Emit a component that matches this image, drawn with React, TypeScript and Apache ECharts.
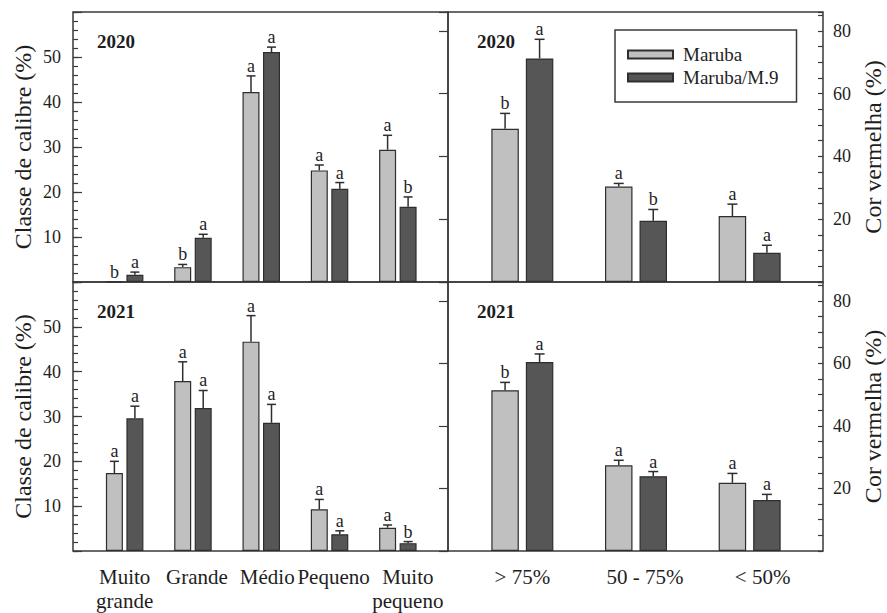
import React, { useEffect, useRef } from 'react';
import * as echarts from 'echarts';

// ---------- data ----------
const sizeClasses = ['Muito\ngrande', 'Grande', 'Médio', 'Pequeno', 'Muito\npequeno'];
const colorClasses = ['> 75%', '50 - 75%', '< 50%'];
const seriesNames = ['Maruba', 'Maruba/M.9'];
const yearLabels = ['2020', '2021'];

const sizeMax = 60;
const sizeInterval = 10;
const sizeMinorInterval = 2;
const colorMax = 86;
const colorInterval = 20;
const colorMinorInterval = 5;

const size2020Maruba = [0.1, 3.3, 42.2, 24.8, 29.4];
const size2020MarubaErr = [0.1, 3.9, 45.8, 26.0, 32.6];
const size2020MarubaLetters = ['b', 'b', 'a', 'a', 'a'];
const size2020M9 = [1.6, 9.85, 51.1, 20.7, 16.7];
const size2020M9Err = [2.2, 10.6, 52.2, 22.1, 18.9];
const size2020M9Letters = ['a', 'a', 'a', 'a', 'b'];

const size2021Maruba = [17.4, 37.9, 46.7, 9.3, 5.2];
const size2021MarubaErr = [20.0, 42.2, 52.5, 11.5, 5.8];
const size2021MarubaLetters = ['a', 'a', 'a', 'a', 'a'];
const size2021M9 = [29.6, 31.9, 28.6, 3.75, 1.75];
const size2021M9Err = [32.3, 35.8, 32.7, 4.5, 2.1];
const size2021M9Letters = ['a', 'a', 'a', 'a', 'b'];

const color2020Maruba = [48.8, 30.4, 21.0];
const color2020MarubaErr = [53.7, 31.4, 24.8];
const color2020MarubaLetters = ['b', 'a', 'a'];
const color2020M9 = [71.2, 19.5, 9.3];
const color2020M9Err = [77.3, 23.1, 11.7];
const color2020M9Letters = ['a', 'b', 'a'];

const color2021Maruba = [51.4, 27.4, 21.8];
const color2021MarubaErr = [53.9, 29.0, 24.8];
const color2021MarubaLetters = ['b', 'a', 'a'];
const color2021M9 = [60.4, 23.9, 16.3];
const color2021M9Err = [63.0, 25.4, 18.1];
const color2021M9Letters = ['a', 'a', 'a'];

// ---------- styles ----------
const FONT = '"Liberation Serif", "Times New Roman", Times, serif';
const LIGHT = '#c0c0c0';
const DARK = '#565656';
const EDGE = '#2e2e2e';
const AXIS = '#3a3a3a';
const TEXT = '#1e1e1e';
// horizontal nudges (px) of the category labels, as in the original figure
const sizeLabelShift = [0, 4, 6, 4, 10];
const colorLabelShift = [0, 9, 13];

type Panel = {
  box: { left: number; top: number; width: number; height: number };
  bars: { left: number; width: number };
  side: 'left' | 'right';
  cats: string[];
  shifts: number[];
  max: number;
  interval: number;
  minor: number;
  showCats: boolean;
  barWidth: number;
  barGap: number;
  cap: number;
  a: number[]; aErr: number[]; aL: string[];
  b: number[]; bErr: number[]; bL: string[];
  year: string;
  name?: string;
};

const panels: Panel[] = [
  {
    box: { left: 73, top: 12, width: 375, height: 270 }, bars: { left: 90.5, width: 341.5 },
    side: 'left', cats: sizeClasses, shifts: sizeLabelShift, max: sizeMax, interval: sizeInterval, minor: sizeMinorInterval,
    showCats: false, barWidth: 17, barGap: 3.5, cap: 9,
    a: size2020Maruba, aErr: size2020MarubaErr, aL: size2020MarubaLetters,
    b: size2020M9, bErr: size2020M9Err, bL: size2020M9Letters, year: yearLabels[0],
    name: 'Classe de calibre (%)',
  },
  {
    box: { left: 448, top: 12, width: 375, height: 270 }, bars: { left: 465.5, width: 341 },
    side: 'right', cats: colorClasses, shifts: colorLabelShift, max: colorMax, interval: colorInterval, minor: colorMinorInterval,
    showCats: false, barWidth: 27.5, barGap: 7, cap: 10,
    a: color2020Maruba, aErr: color2020MarubaErr, aL: color2020MarubaLetters,
    b: color2020M9, bErr: color2020M9Err, bL: color2020M9Letters, year: yearLabels[0],
    name: 'Cor vermelha (%)',
  },
  {
    box: { left: 73, top: 282, width: 375, height: 269 }, bars: { left: 90.5, width: 341.5 },
    side: 'left', cats: sizeClasses, shifts: sizeLabelShift, max: sizeMax, interval: sizeInterval, minor: sizeMinorInterval,
    showCats: true, barWidth: 17, barGap: 3.5, cap: 9,
    a: size2021Maruba, aErr: size2021MarubaErr, aL: size2021MarubaLetters,
    b: size2021M9, bErr: size2021M9Err, bL: size2021M9Letters, year: yearLabels[1],
    name: 'Classe de calibre (%)',
  },
  {
    box: { left: 448, top: 282, width: 375, height: 269 }, bars: { left: 465.5, width: 341 },
    side: 'right', cats: colorClasses, shifts: colorLabelShift, max: colorMax, interval: colorInterval, minor: colorMinorInterval,
    showCats: true, barWidth: 27.5, barGap: 7, cap: 10,
    a: color2021Maruba, aErr: color2021MarubaErr, aL: color2021MarubaLetters,
    b: color2021M9, bErr: color2021M9Err, bL: color2021M9Letters, year: yearLabels[1],
    name: 'Cor vermelha (%)',
  },
];

function buildOption() {
  const grid: any[] = [];
  const xAxis: any[] = [];
  const yAxis: any[] = [];
  const series: any[] = [];
  const title: any[] = [];
  const n = panels.length;

  panels.forEach((p, i) => {
    grid[i] = { ...p.box, show: true, borderColor: AXIS, borderWidth: 1.5, backgroundColor: 'transparent' };
    grid[n + i] = { left: p.bars.left, width: p.bars.width, top: p.box.top, height: p.box.height };

    xAxis[i] = { type: 'value', gridIndex: i, show: false, min: 0, max: 1 };
    xAxis[n + i] = {
      type: 'category', gridIndex: n + i,
      data: p.cats.map((c, k) => ({ value: c, textStyle: { padding: [0, 0, 0, 2 * p.shifts[k]] } })),
      axisLine: { show: false }, axisTick: { show: false }, splitLine: { show: false },
      axisLabel: {
        show: p.showCats, fontFamily: FONT, fontSize: 21, lineHeight: 24, color: TEXT, margin: 14,
        interval: 0,
      },
    };

    const labelFmt = (v: number) => (v === 0 || v >= p.max || v % p.interval !== 0 ? '' : String(v));
    yAxis[i] = {
      type: 'value', gridIndex: i, position: p.side, min: 0, max: p.max, interval: p.interval,
      axisLine: { show: false }, splitLine: { show: false },
      axisTick: { show: true, inside: true, length: 9, lineStyle: { color: AXIS, width: 1.2 } },
      axisLabel: { formatter: labelFmt, fontFamily: FONT, fontSize: 18, color: TEXT, margin: p.side === 'left' ? 12 : 10 },
      name: p.name, nameLocation: 'middle', nameRotate: 90, nameGap: 38,
      nameTextStyle: { fontFamily: FONT, fontSize: 24, color: TEXT },
    };
    yAxis[n + i] = { type: 'value', gridIndex: n + i, min: 0, max: p.max, show: false };
    yAxis[2 * n + i] = {
      type: 'value', gridIndex: i, position: p.side, min: 0, max: p.max, interval: p.minor,
      axisLine: { show: false }, splitLine: { show: false }, axisLabel: { show: false },
      axisTick: { show: true, inside: true, length: 5, lineStyle: { color: AXIS, width: 1.2 } },
    };

    const off = (p.barWidth + p.barGap) / 2;
    const groups = [
      { name: seriesNames[0], vals: p.a, errs: p.aErr, letters: p.aL, color: LIGHT, dx: -off },
      { name: seriesNames[1], vals: p.b, errs: p.bErr, letters: p.bL, color: DARK, dx: off },
    ];
    groups.forEach((g) => {
      series.push({
        type: 'bar', name: g.name, xAxisIndex: n + i, yAxisIndex: n + i,
        data: g.vals, barWidth: p.barWidth, barGap: `${(p.barGap / p.barWidth) * 100}%`,
        itemStyle: { color: g.color, borderColor: EDGE, borderWidth: 1.2 },
        silent: true,
      });
      series.push({
        type: 'custom', name: g.name + ' err', xAxisIndex: n + i, yAxisIndex: n + i, z: 5, silent: true,
        data: g.vals.map((v, k) => [k, v, g.errs[k]]),
        renderItem: (params: any, api: any) => {
          const k = api.value(0);
          const v = api.value(1);
          const e = api.value(2);
          const base = api.coord([k, v]);
          const top = api.coord([k, e]);
          const x = base[0] + g.dx;
          const children: any[] = [];
          if (e > v) {
            children.push({
              type: 'line', shape: { x1: x, y1: base[1], x2: x, y2: top[1] },
              style: { stroke: EDGE, lineWidth: 1.5 },
            });
            children.push({
              type: 'line', shape: { x1: x - p.cap / 2, y1: top[1], x2: x + p.cap / 2, y2: top[1] },
              style: { stroke: EDGE, lineWidth: 1.5 },
            });
          }
          children.push({
            type: 'text', x, y: top[1] - 1,
            style: {
              text: g.letters[params.dataIndex], fontFamily: FONT, fontSize: 18, fill: TEXT,
              align: 'center', verticalAlign: 'bottom',
            },
          });
          return { type: 'group', children };
        },
      });
    });

    title.push({
      text: p.year, left: p.box.left + (p.side === 'left' ? 24 : 29), top: p.box.top + 20,
      padding: 0,
      textStyle: { fontFamily: FONT, fontSize: 19, fontWeight: 'bold', color: TEXT },
    });
  });

  return {
    animation: false,
    backgroundColor: '#ffffff',
    title,
    grid,
    xAxis,
    yAxis,
    legend: {
      data: seriesNames, orient: 'vertical', left: 615, top: 30,
      itemWidth: 45, itemHeight: 8, itemGap: 4, icon: 'rect',
      padding: [15, 18, 15, 12], borderColor: AXIS, borderWidth: 1.5,
      selectedMode: false,
      textStyle: { fontFamily: FONT, fontSize: 19, color: TEXT, padding: [0, 0, 0, 5] },
    },
    series,
  };
}

export default function App() {
  const ref = useRef<HTMLDivElement>(null);
  useEffect(() => {
    if (!ref.current) return;
    const chart = echarts.init(ref.current, undefined, { renderer: 'svg' });
    chart.setOption(buildOption() as any);
    return () => chart.dispose();
  }, []);
  return (
    <div
      ref={ref}
      style={{ position: 'fixed', left: 0, top: 0, width: 887, height: 613, background: '#fff' }}
    />
  );
}
